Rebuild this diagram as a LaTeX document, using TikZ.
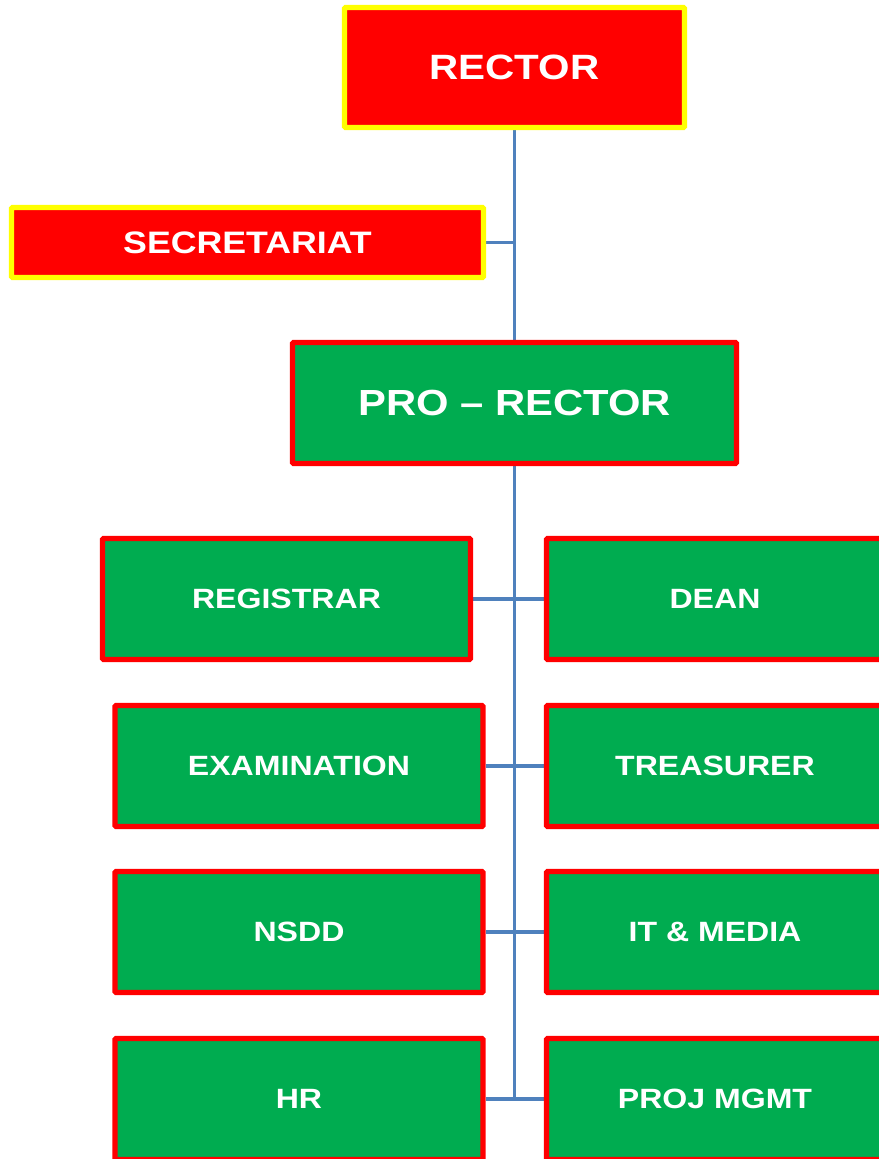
\documentclass[tikz,border=0pt]{standalone}
\usepackage{fontspec}
\setmainfont{Liberation Sans}[FakeStretch=1.15]
\usepackage{tikz}
\usetikzlibrary{positioning,calc,backgrounds}
\definecolor{headred}{RGB}{255,0,0}
\definecolor{rimyellow}{RGB}{255,255,0}
\definecolor{unitgreen}{RGB}{0,172,80}
\definecolor{linkblue}{RGB}{79,129,189}

\begin{document}
\begin{tikzpicture}[
  x=0.3mm, y=-0.3mm,
  head/.style={draw=rimyellow, line width=1.6mm, fill=headred, text=white, inner sep=0pt, rounded corners=1pt, align=center},
  unit/.style={draw=headred, line width=1.6mm, fill=unitgreen, text=white, inner sep=0pt, rounded corners=1pt, align=center, minimum height=36.3mm, font=\bfseries\fontsize{23.8}{26}\selectfont},
  leftunit/.style={unit, minimum width=110.4mm},
  rightunit/.style={unit, minimum width=101.1mm},
  link/.style={draw=linkblue, line width=1.1mm}
]
\useasboundingbox (0,0) rectangle (879,1159);
\clip (0,0) rectangle (879,1159);

\node[head, minimum width=102mm, minimum height=36mm, font=\bfseries\fontsize{30}{32}\selectfont] (rector) at (514.5,67.5) {RECTOR};
\node[head, minimum width=141.6mm, minimum height=21mm, font=\bfseries\fontsize{26.5}{28}\selectfont] (secr) at (247.5,242.5) {SECRETARIAT};
\node[unit, minimum width=133.2mm, font=\bfseries\fontsize{31}{33}\selectfont] (pro) at (514.5,403) {PRO -- RECTOR};

% left column
\node[leftunit, minimum width=110.4mm] (reg) at (286.5,599) {REGISTRAR};
\node[leftunit] (exam) at (299,766) {EXAMINATION};
\node[leftunit] (nsdd) at (299,932) {NSDD};
\node[leftunit] (hr) at (299,1099) {HR};

% right column
\node[rightunit] (dean) at (715,599) {DEAN};
\node[rightunit] (treas) at (715,766) {TREASURER};
\node[rightunit] (itm) at (715,932) {IT \& MEDIA};
\node[rightunit] (proj) at (715,1099) {PROJ MGMT};

\coordinate (sjoin) at (secr.east -| rector.south);
\coordinate (tail) at (pro.south |- hr.east);

\begin{scope}[on background layer]
\fill[white] (0,0) rectangle (879,1159);
\draw[link] (rector) -- (pro);
\draw[link] (secr) -- (sjoin);
\draw[link] (pro) -- (tail);
\foreach \l/\r in {reg/dean,exam/treas,nsdd/itm,hr/proj}
  \draw[link] (\l) -- (\r);
\end{scope}
\end{tikzpicture}
\end{document}
